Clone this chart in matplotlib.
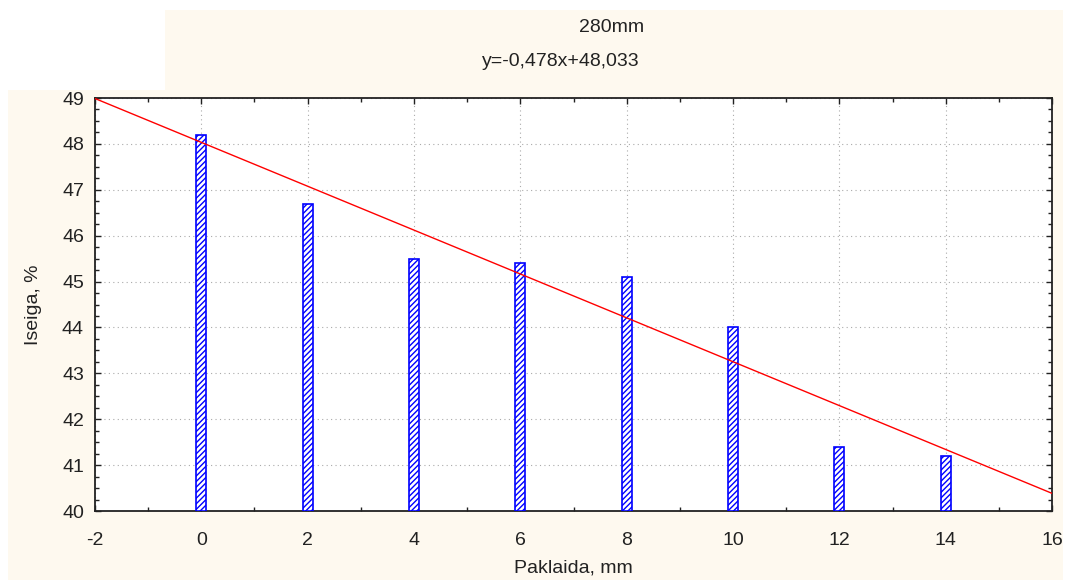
import numpy as np
import matplotlib.pyplot as plt
from matplotlib.patches import Rectangle
from matplotlib.ticker import MultipleLocator

plt.rcParams['font.family'] = ['Liberation Sans', 'DejaVu Sans']
plt.rcParams['axes.unicode_minus'] = False

paklaida = [0, 2, 4, 6, 8, 10, 12, 14]
iseiga = [48.2, 46.7, 45.5, 45.4, 45.1, 44.0, 41.4, 41.2]
slope = -0.478
intercept = 48.033
title1 = '280mm'
title2 = 'y=-0,478x+48,033'

cream = '#fef9ef'
W, H = 1065, 580

fig = plt.figure(figsize=(10.65, 5.8), dpi=100, facecolor='white')
# cream background pieces, kept behind the axes
fig.patches.append(Rectangle((165 / W, 1 - 90 / H), (1063 - 165) / W, 80 / H,
                             transform=fig.transFigure, facecolor=cream, edgecolor='none', zorder=-5))
fig.patches.append(Rectangle((8 / W, 0), (1063 - 8) / W, 1 - 90 / H,
                             transform=fig.transFigure, facecolor=cream, edgecolor='none', zorder=-5))

ax = fig.add_axes([95 / W, 1 - 511 / H, (1052 - 95) / W, (511 - 98) / H])
ax.set_facecolor('white')

ax.bar(paklaida, [v - 40 for v in iseiga], bottom=40, width=0.19, color='white',
       edgecolor='#0000ff', hatch='//////', linewidth=1.2, zorder=3)

xs = np.array([-2, 16])
ax.plot(xs, slope * xs + intercept, color='#ff0000', linewidth=1.0, zorder=4)

ax.set_xlim(-2, 16)
ax.set_ylim(40, 49)
ax.xaxis.set_major_locator(MultipleLocator(2))
ax.xaxis.set_minor_locator(MultipleLocator(1))
ax.yaxis.set_major_locator(MultipleLocator(1))
ax.yaxis.set_minor_locator(MultipleLocator(0.25))
ax.grid(True, which='major', linestyle=(0, (1, 3)), color='#aaaaaa', linewidth=0.8, zorder=0)
ax.tick_params(which='both', direction='in', top=True, right=True, labelsize=14, colors='#222222')
ax.tick_params(which='major', length=4, width=1, pad=8)
ax.tick_params(which='minor', length=3, width=1)
ax.tick_params(axis='x', which='major', pad=15)
for s in ax.spines.values():
    s.set_linewidth(1.3)
    s.set_color('#222222')

ax.set_xlabel('Paklaida, mm', fontsize=14, labelpad=8, color='#222222')
ax.set_ylabel('Iseiga, %', fontsize=14, labelpad=14, color='#222222')

fig.text(612 / W, 1 - 27 / H, title1, ha='center', va='center', fontsize=14, color='#222222')
fig.text(561 / W, 1 - 62 / H, title2, ha='center', va='center', fontsize=14, color='#222222')

fig.savefig('out.png', dpi=100, facecolor=fig.get_facecolor())
